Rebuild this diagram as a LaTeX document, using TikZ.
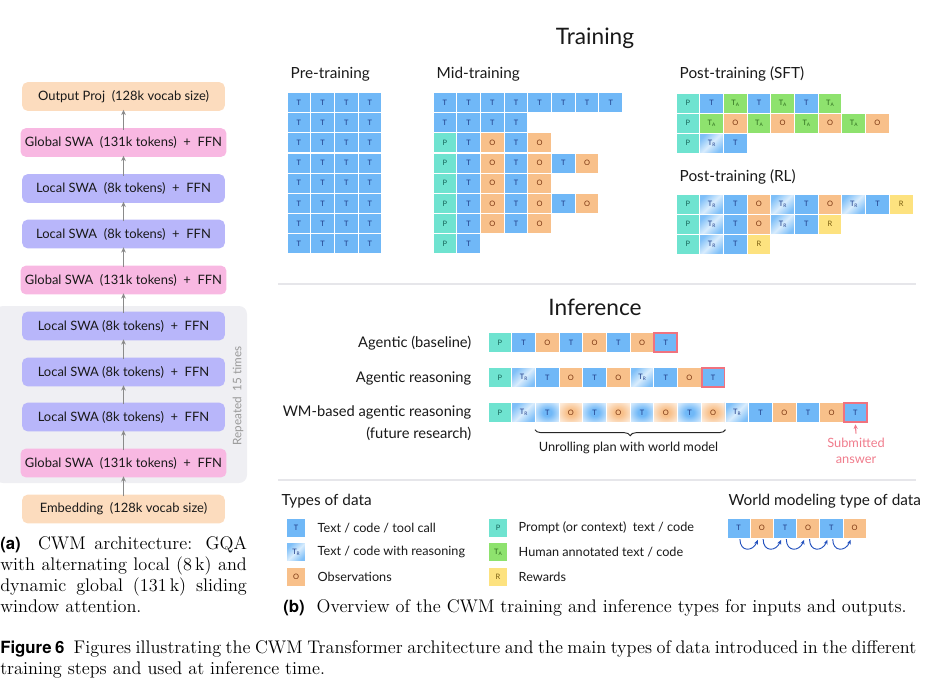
\documentclass[tikz,border=0pt]{standalone}
\usepackage{fontspec}
\newfontfamily\lato{Lato}
\newfontfamily\heros{TeX Gyre Heros}
\usetikzlibrary{arrows.meta,decorations.pathreplacing}
\definecolor{tblue}{HTML}{70B8F7}
\definecolor{tlight}{HTML}{D8ECFD}
\definecolor{tdark}{HTML}{1E3A86}
\definecolor{oorange}{HTML}{F8C08A}
\definecolor{odark}{HTML}{7A3510}
\definecolor{pteal}{HTML}{6FE3D0}
\definecolor{pdark}{HTML}{17665A}
\definecolor{agreen}{HTML}{8EE26E}
\definecolor{adark}{HTML}{2C6A1C}
\definecolor{ryellow}{HTML}{FDE27F}
\definecolor{wdark}{HTML}{7A5E10}
\definecolor{redb}{HTML}{F0727F}
\definecolor{pinktxt}{HTML}{F07C8C}
\definecolor{peach}{HTML}{FCDCBE}
\definecolor{pinkbox}{HTML}{F8B8E2}
\definecolor{lavender}{HTML}{B8B6FA}
\definecolor{repbg}{HTML}{EFEFF3}
\definecolor{sepgray}{HTML}{E6E6EA}
\definecolor{arrgray}{HTML}{8A8A8A}
\definecolor{wmblue}{HTML}{2452BE}
\pgfdeclareradialshading{glowT}{\pgfpoint{0bp}{0bp}}{color(0bp)=(tblue); color(9bp)=(tblue); color(30bp)=(tblue!35); color(42bp)=(tblue!12); color(50bp)=(tblue!5)}
\pgfdeclareradialshading{glowO}{\pgfpoint{0bp}{0bp}}{color(0bp)=(oorange); color(9bp)=(oorange); color(30bp)=(oorange!35); color(42bp)=(oorange!12); color(50bp)=(oorange!5)}
\newcommand\sub[1]{\raisebox{-0.7pt}{\fontsize{3.6}{4}\selectfont #1}}
\newcommand\txtcT{T}
\newcommand\txtcO{O}
\newcommand\txtcP{P}
\newcommand\txtcA{T\sub{A}}
\newcommand\txtcR{T\sub{R}}
\newcommand\txtcW{R}
\newcommand\txtgT{T}
\newcommand\txtgO{O}
\newcommand\cellrow[4]{\foreach \t [count=\i] in {#4}{%
  \edef\celltmp{\noexpand\node (#1-\i) at ({#2+(\i-0.5)*23.7},#3) [cell,\t] {\noexpand\csname txt\t\noexpand\endcsname};}\celltmp}}
\tikzset{
  cell/.style={draw=white, line width=0.7pt, minimum width=17.8pt, minimum height=15pt,
    inner sep=0pt, font=\lato\fontsize{5.6}{6}\selectfont},
  cT/.style={fill=tblue, text=tdark},
  cO/.style={fill=oorange, text=odark},
  cP/.style={fill=pteal, text=pdark},
  cA/.style={fill=agreen, text=adark},
  cR/.style={shading=axis, top color=tblue!90, bottom color=tblue!90, middle color=tlight,
    shading angle=45, text=tdark},
  cW/.style={fill=ryellow, text=wdark},
  gT/.style={shading=glowT, text=tdark},
  gO/.style={shading=glowO, text=odark},
  arch/.style={rounded corners=4pt, minimum width=152pt, minimum height=21.5pt,
    font=\lato\fontsize{9.7}{11}\selectfont, text=black!90},
  archarrow/.style={draw=arrgray, line width=0.7pt, -{Stealth[length=4pt,width=3.5pt]}},
  ttl/.style={font=\lato\fontsize{17}{20}\selectfont, text=black!90},
  subttl/.style={font=\lato\fontsize{11.5}{13}\selectfont, text=black!90, anchor=west},
  rowlbl/.style={font=\lato\fontsize{11}{13}\selectfont, text=black!90, anchor=east},
  legtxt/.style={font=\lato\fontsize{9.5}{11}\selectfont, text=black!90, anchor=west},
  sepline/.style={draw=sepgray, line width=1.4pt},
  hlbox/.style={draw=redb, line width=1.3pt},
  wmarrow/.style={draw=wmblue, line width=0.7pt, -{Stealth[length=3.5pt,width=3pt]}},
  capfont/.style={font=\fontsize{13.7}{15.8}\selectfont},
  lg/.style={cell, minimum width=13.8pt, minimum height=14.2pt}
}
\newcommand\capbf[1]{{\heros\bfseries\fontsize{12.6}{15}\selectfont #1}}
\begin{document}
\begin{tikzpicture}[x=0.75pt,y=-0.75pt]
\useasboundingbox (0,0) rectangle (929,683);
% ---------------- architecture ----------------
\fill[repbg, rounded corners=6pt] (-5,306) rectangle (247,483);
\node[rotate=90, font=\lato\fontsize{8.8}{10}\selectfont, text=black!40] (rep) at (238,396) {Repeated\ \ 15 times};
\node[arch, fill=peach]    (b10) at (123.5,96.5) {Output Proj\ \ (128k vocab size)};
\node[arch, fill=pinkbox]  (b9)  at (123.5,142.5) {Global SWA\ \ (131k tokens)\ \ +\ \ FFN};
\node[arch, fill=lavender] (b8)  at (123.5,188.5) {Local SWA\ \ (8k tokens)\ \ +\ \ FFN};
\node[arch, fill=lavender] (b7)  at (123.5,234) {Local SWA\ \ (8k tokens)\ \ +\ \ FFN};
\node[arch, fill=pinkbox]  (b6)  at (123.5,280) {Global SWA\ \ (131k tokens)\ \ +\ \ FFN};
\node[arch, fill=lavender] (b5)  at (123.5,326) {Local SWA (8k tokens)\ \ +\ \ FFN};
\node[arch, fill=lavender] (b4)  at (123.5,372) {Local SWA (8k tokens)\ \ +\ \ FFN};
\node[arch, fill=lavender] (b3)  at (123.5,417) {Local SWA (8k tokens)\ \ +\ \ FFN};
\node[arch, fill=pinkbox]  (b2)  at (123.5,463) {Global SWA\ \ (131k tokens)\ \ +\ \ FFN};
\node[arch, fill=peach]    (b1)  at (123.5,509) {Embedding\ \ (128k vocab size)};
\foreach \a/\b in {b1/b2,b2/b3,b3/b4,b4/b5,b5/b6,b6/b7,b7/b8,b8/b9,b9/b10}
  \draw[archarrow] ([yshift=-1.5pt]\a.north) -- ([yshift=1pt]\b.south);
% ---------------- training ----------------
\node[ttl] (training) at (595,38) {Training};
\node[subttl] (pretl) at (286,74) {Pre-training};
\node[subttl] (midtl) at (432,74) {Mid-training};
\node[subttl] (sfttl) at (675,74) {Post-training (SFT)};
\node[subttl] (rltl) at (675,177) {Post-training (RL)};
\cellrow{pre1}{287}{102.5}{cT,cT,cT,cT}
\cellrow{pre2}{287}{122.7}{cT,cT,cT,cT}
\cellrow{pre3}{287}{142.9}{cT,cT,cT,cT}
\cellrow{pre4}{287}{163.1}{cT,cT,cT,cT}
\cellrow{pre5}{287}{183.3}{cT,cT,cT,cT}
\cellrow{pre6}{287}{203.5}{cT,cT,cT,cT}
\cellrow{pre7}{287}{223.7}{cT,cT,cT,cT}
\cellrow{pre8}{287}{243.9}{cT,cT,cT,cT}
\cellrow{mid1}{433}{102.5}{cT,cT,cT,cT,cT,cT,cT,cT}
\cellrow{mid2}{433}{122.7}{cT,cT,cT,cT}
\cellrow{mid3}{433}{142.9}{cP,cT,cO,cT,cO}
\cellrow{mid4}{433}{163.1}{cP,cT,cO,cT,cO,cT,cO}
\cellrow{mid5}{433}{183.3}{cP,cT,cO,cT,cO}
\cellrow{mid6}{433}{203.5}{cP,cT,cO,cT,cO,cT,cO}
\cellrow{mid7}{433}{223.7}{cP,cT,cO,cT,cO}
\cellrow{mid8}{433}{243.9}{cP,cT}
\cellrow{sft1}{676}{103}{cP,cT,cA,cT,cA,cT,cA}
\cellrow{sft2}{676}{123}{cP,cA,cO,cA,cO,cA,cO,cA,cO}
\cellrow{sft3}{676}{143}{cP,cR,cT}
\cellrow{rl1}{676}{204}{cP,cR,cT,cO,cR,cT,cO,cR,cT,cW}
\cellrow{rl2}{676}{224}{cP,cR,cT,cO,cR,cT,cW}
\cellrow{rl3}{676}{244}{cP,cR,cT,cW}
\draw[sepline] (278,284) -- (916,284);
% ---------------- inference ----------------
\node[ttl] (inference) at (595,307) {Inference};
\node[rowlbl] (l1) at (476,343) {Agentic (baseline)};
\node[rowlbl] (l2) at (476,378) {Agentic reasoning};
\node[rowlbl] (l3) at (476,412.5) {WM-based agentic reasoning};
\node[rowlbl] (l3b) at (476,433.5) {(future research)};
\cellrow{ag}{488}{342.5}{cP,cT,cO,cT,cO,cT,cO,cT}
\cellrow{ar}{488}{377.5}{cP,cR,cT,cO,cT,cO,cR,cT,cO,cT}
\cellrow{wm}{488}{412.5}{cP,cR,gT,gO,gT,gO,gT,gO,gT,gO,cR,cT,cO,cT,cO,cT}
\foreach \n in {ag-8,ar-10,wm-16}
  \draw[hlbox] ([shift={(0.65pt,0.65pt)}]\n.south west) rectangle ([shift={(-0.65pt,-0.65pt)}]\n.north east);
\draw[decorate, decoration={brace, amplitude=4.5pt}, draw=black!85, line width=0.7pt]
  ([yshift=-5pt]wm-10.south east) -- ([yshift=-5pt]wm-3.south west);
\node[font=\lato\fontsize{9.6}{11}\selectfont, text=black!90] (unroll) at (628.5,447.5) {Unrolling plan with world model};
\node[font=\lato\fontsize{9.6}{12}\selectfont, text=pinktxt, align=center] (subm) at (856,451) {Submitted\\answer};
\draw[draw=pinktxt, line width=0.8pt, -{Stealth[length=3.5pt,width=3.2pt]}] (subm.north) -- ([yshift=-1pt]wm-16.south);
\draw[sepline] (278,480) -- (916,480);
% ---------------- legend ----------------
\node[subttl] (types) at (277,501.5) {Types of data};
\node[lg,cT] (lg1) at (296,528) {T};
\node[lg,cR] (lg2) at (296,552) {T\sub{R}};
\node[lg,cO] (lg3) at (296,577) {O};
\node[legtxt] (lt1) at (313,528) {Text / code / tool call};
\node[legtxt] (lt2) at (313,552) {Text / code with reasoning};
\node[legtxt] (lt3) at (313,577) {Observations};
\node[lg,cP] (lg4) at (498,528) {P};
\node[lg,cA] (lg5) at (498,552) {T\sub{A}};
\node[lg,cW] (lg6) at (498,577) {R};
\node[legtxt] (lt4) at (514,528) {Prompt (or context)\ \ text / code};
\node[legtxt] (lt5) at (514,552) {Human annotated text / code};
\node[legtxt] (lt6) at (514,577) {Rewards};
\node[subttl] (wmt) at (724,501.5) {World modeling type of data};
\node[cell,cT,minimum width=17.4pt] (wd1) at (738.6,528) {T};
\node[cell,cO,minimum width=17.4pt] (wd2) at (761.8,528) {O};
\node[cell,cT,minimum width=17.4pt] (wd3) at (785.0,528) {T};
\node[cell,cO,minimum width=17.4pt] (wd4) at (808.2,528) {O};
\node[cell,cT,minimum width=17.4pt] (wd5) at (831.4,528) {T};
\node[cell,cO,minimum width=17.4pt] (wd6) at (854.6,528) {O};
\foreach \i/\j in {1/2,2/3,3/4,4/5,5/6}
  \draw[wmarrow] ([xshift=1pt,yshift=-0.5pt]wd\i.south) .. controls +(0,13) and +(-5,12) .. ([xshift=-3pt,yshift=-1pt]wd\j.south);
% ---------------- captions ----------------
\node[capfont, anchor=north west, inner sep=0pt, text width=185pt, align=justify] (capa) at (0,536)
  {\capbf{(a)}\ \ CWM architecture: GQA\linebreak with alternating local (8\,k) and\linebreak dynamic global (131\,k) sliding\linebreak window attention.};
\node[capfont, anchor=west, inner sep=0pt] (capb) at (283,608)
  {\capbf{(b)}\ \ Overview of the CWM training and inference types for inputs and outputs.};
\node[capfont, anchor=north west, inner sep=0pt, text width=687pt, align=justify] (capf) at (0,640)
  {\capbf{Figure 6}\ \ Figures illustrating the CWM Transformer architecture and the main types of data introduced in the different\linebreak training steps and used at inference time.};
\end{tikzpicture}
\end{document}
